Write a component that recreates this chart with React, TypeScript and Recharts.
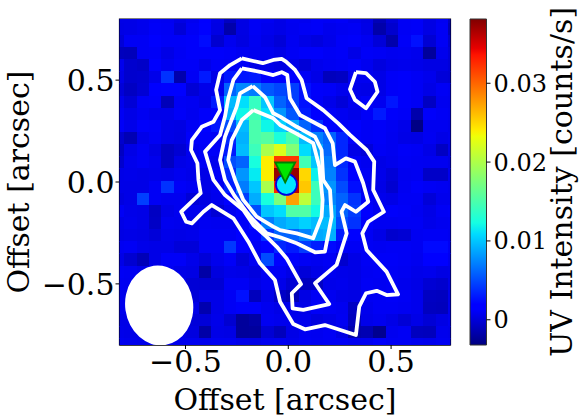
import { Label, ReferenceArea, Scatter, ScatterChart, XAxis, YAxis } from "recharts";

// pixel values, in 1e-3 counts/s, rows from the top
const uvIntensity: number[][] = [
  [0.5, 0.5, 0.7, 1, 0.9, 0.4, 0.8, 1.6, 0.5, -0.8, 0.4, 1, 0.9, 0.5, 0.9, 0.8, 1.1, 1, 1.1, 0.7, 0.4, -1.2, 0, 1, 1.1, 0.4, 0.9, -0.8],
  [0.4, 0.5, 0.7, 1.1, 1, 0, 1, 2, 0.4, -1.7, 0.4, 1, 0.7, 0.5, 0.8, 1, 1.1, 0.7, 0.9, 1, 0.5, -1.7, -0.4, 1, 1.1, 0.4, 1, -1.2],
  [0, 1, 1, 1.3, 1.1, 1.1, 1.2, 2.4, -0.3, 0.8, 0.3, 0.9, 0.5, 0, 0.9, 0.5, 0.2, 0.6, 1.1, 1.2, 0.9, 0, -1.6, 1.1, 2.6, -0.2, 1, -0.4],
  [-1, -1.1, 1, 1.1, 0.5, 1, 1.2, 1.2, 1.2, 1.1, 0.9, 0.8, 0.8, 0.5, 1, 1.2, 1.2, 1, 1.1, 0.5, 1.1, 1, 0.8, 0.9, 0.7, -2.2, 0.7, 0],
  [0.7, -0.4, -0.6, 1.3, 0.8, 1.1, 1.1, 0.6, 1.1, 1, 1.1, 0.5, 0.6, 0.3, 0.6, 0, 0.7, 0.9, 1, 1.2, 0.8, 0.2, 0.6, 0.7, 0.6, 0.4, 0.4, 0],
  [0.5, -0.4, -0.3, 0.6, 4, -1.6, 1, 3, 0.5, 2.8, 2.8, 3, 1.5, 1.3, 1.5, 1, 0.5, -1, -0.8, 0.8, 0.8, 0.5, 1.1, 1.2, 1, 0.7, 0, -0.2],
  [0, -0.8, -0.2, 1.6, 2, 2, -0.1, 0.6, 0.7, 6, 7.5, 7, 5.5, 4.8, 4.5, 2.6, 1.2, 1.1, 0.7, 0.6, 0.5, 0.5, 1.1, 1.2, 1, 0.5, 1, 0.8],
  [0.7, -0.1, 1.1, 1.2, -1.1, 1, 0.9, 0.5, 3, 9.5, 11, 14, 10, 6, 4.5, 2.6, 1.1, 0.6, 0, 0.8, 1.1, 0.8, 2.8, 1.2, 1, -0.8, 0.8, 0.7],
  [1, 0.5, 0.9, 0.6, 0.6, 1.1, 0.8, 1.2, 1.8, 9, 12, 14.5, 11, 8, 5.5, 3, 1.5, 1.1, 0.9, 0.6, 1.1, 3, 1.2, 1.1, -1.6, 1.2, 1, 0.8],
  [1.1, 0.6, 1.2, 1.1, 0.5, 0.4, 1, 2, 2.8, 5, 9.6, 15, 12, 10.5, 8.8, 6, 4, 2, 1.1, 1.3, 1, 1.1, 0.9, 0.6, -3, 0.8, 0.8, 0.6],
  [-0.4, -1.3, 0.6, 1, 0.5, 0.3, 1.2, 1.2, 1, 3.5, 9.2, 15, 15.5, 12.6, 15, 9.6, 7.2, 6, 3.5, 1.2, 1, 1.1, 0.8, 0.5, 0.4, 0.9, 0.5, 0.7],
  [-0.8, 0.5, 1, 0.4, -0.8, -0.2, 0.8, 1.1, 1.1, 3, 9.6, 14.3, 19.8, 22.3, 17.8, 10.9, 8.8, 6.2, 3.5, 0.5, 0, 1, 0.8, 1.1, 1, 0.5, -0.8, 0.6],
  [-0.4, 0.7, 1, 0.7, -0.8, 0.5, 0.7, 1, 0.7, 5, 6, 12.5, 24, 32, 32, 14.5, 10, 7, 3.6, 1.1, 0.8, 0.5, 0.7, 1, 0.9, 0.8, 0.8, 0.5],
  [0.5, 0.6, 0.5, 0.6, 0.5, 0.8, 0.6, 0.5, 1.1, 3.5, 8, 11.5, 24, 37.3, 37.3, 25, 11.7, 7.2, 4, 1.5, 1, 0.6, 0, 0.8, 0.9, -0.6, -0.6, 0.7],
  [0.5, 0.5, 0.5, 1, 4, 1.1, 0.9, 0.5, 0.8, 3.2, 7, 10, 19.8, 33, 36, 25.7, 14.3, 8, 5, 2.5, 0.7, 0.5, -0.3, 0.9, 1.2, 1, 0.9, 0.7],
  [0.2, 0.5, 4.5, 1, 0.8, 0.8, -0.1, 0.3, 0.7, 1.4, 4.5, 9, 12.5, 17.5, 27.4, 20.8, 14.3, 7.5, 6, 4, 1.1, 0.7, 0.5, 1, 1, 0, 0.7, 0.7],
  [1, 0.6, 0.5, -0.8, 0.5, 0.8, 0.7, 0.6, -0.2, 0.8, 1.6, 5, 10, 10.9, 15.3, 15.3, 12.2, 8.8, 6, 4.4, 1.5, 0.8, 1.2, 1.1, 0.9, 0.5, 1, 1.1],
  [0.5, 0.7, 0.5, -0.7, 0.8, 0.7, 0.5, 0.9, 0.8, 0.8, 1.1, 2.5, 7, 8.8, 9.6, 10.5, 9.6, 9.6, 5, 4, 1.2, 0.9, 0.9, 1, 1, 0.6, 0.8, 0.9],
  [0.4, 0.5, 0.4, 0, 0.6, 0.5, 0.6, 1, 1, 1, 1.8, 1.3, 4, 6, 6, 7.2, 8.8, 9.2, 3, 2, 1, 0.5, -0.4, -0.2, 0.9, 1, 1, 0.8],
  [0.9, 1, 0.6, 0.5, 0.5, 0, 0, 1, 1, 4.2, 1.6, 1, 2, 3.5, 3, 4.3, 3.2, 2.3, 1.1, 1, 1, 0.9, 1, 1, 0.9, 2.3, 2.3, 1],
  [0.5, -0.3, -1.2, 0.5, 1.1, 1.1, 0.6, 0, 0.7, 1.1, 0, 0.9, 5, 2, 1.2, 1, 0.8, 1, -0.4, 0.5, 1, 1.1, 1.1, 1, 0.8, 1.5, 1.6, 0.8],
  [1, 0.9, 0.6, 1, 0.9, 0.5, 0.4, -1.8, 0.2, 0.6, 0.5, 0.2, 1, 1, 0.5, 0, 0.5, 0.8, 0.6, 0.5, 0.9, 1, 1, 0.9, 0.6, 0.7, 0.4, 0.5],
  [0.9, 0.8, 0.4, 0.7, 1, 0.8, -0.1, -0.2, -0.2, 1, 1, 0.5, 0.9, 0.6, -0.2, -0.9, -0.8, 0.6, 0.7, 0.5, 1, 0.9, 1, 0.7, 0.5, -0.2, -0.4, 0.5],
  [0.7, 0.5, 0.6, 0.6, 0.7, 0.9, 0, 0.5, 0.5, 1, 2.6, -1, 0.5, -0.7, -1.3, 0.4, 1, 0.8, 0.5, 0.4, 0.9, 1, 1.1, 1, 0.7, -0.8, -0.9, 0.6],
  [0.7, 0.8, 0.5, 0.9, 0.8, 0.8, 0.5, -1.5, 0.5, 1, 1.2, 1.2, 0.8, 0.5, 0.6, 0.5, 1.1, 1, 0.8, -0.8, 0.7, 1, 1, 0.9, 0.7, -0.9, -1, 0.7],
  [0.5, 0.5, 0.4, 0.9, 0.8, 0.9, 0, 0, 0.6, -0.3, -2.2, -1.8, 0.9, 0.7, 0.7, 0.7, 0.2, 0.5, 0.9, -1, 0.6, 0.8, 0.5, -0.1, 0.5, -0.1, 0.4, 0.8],
  [0.6, 0.5, 0.5, 0.7, 0.7, 0.5, 0.2, -1.8, 0.5, 0.4, -2.2, -2.1, -0.2, -1, 0.5, 0.9, 0.8, 1, 0.4, -1.6, -1.4, -2.6, 0.8, 1, -0.9, -1, 0.7, 0.6],
  [0.8, 0.7, 0.6, 0.9, 0.6, 0.7, 0.8, 0.7, 0.9, 0.9, 0.6, 0.5, 0.8, 0.9, 0.7, 1, 0.9, 1, 1, 0.8, 0.9, 1.2, 1, 1, 0.8, 0.7, 0.9, 0.8],
];

// contours in arcsec, each closed on itself
const contourOuter: [number, number][] = [
  [-0.226, 0.607], [-0.124, 0.583], [-0.073, 0.599], [-0.032, 0.604], [-0.011, 0.591], [0.033, 0.55], [0.065, 0.501], [0.089, 0.411],
  [0.17, 0.353], [0.243, 0.288], [0.3, 0.231], [0.381, 0.157], [0.418, 0.1], [0.413, -0.039], [0.465, -0.146], [0.389, -0.195],
  [0.36, -0.252], [0.381, -0.334], [0.478, -0.44], [0.534, -0.551], [0.478, -0.555], [0.43, -0.534], [0.378, -0.546], [0.345, -0.612],
  [0.329, -0.751], [0.178, -0.702], [0.081, -0.723], [0.024, -0.697], [-0.04, -0.588], [-0.065, -0.481], [-0.138, -0.399], [-0.194, -0.293],
  [-0.267, -0.178], [-0.372, -0.113], [-0.413, -0.146], [-0.469, -0.203], [-0.497, -0.195], [-0.521, -0.146], [-0.426, -0.055], [-0.437, 0.01],
  [-0.442, 0.092], [-0.473, 0.157], [-0.469, 0.206], [-0.421, 0.271], [-0.364, 0.296], [-0.332, 0.353], [-0.351, 0.452], [-0.332, 0.534],
  [-0.283, 0.574], [-0.226, 0.607],
];
const contourSecond: [number, number][] = [
  [-0.226, 0.558], [-0.138, 0.541], [-0.073, 0.525], [-0.032, 0.539], [-0.005, 0.525], [0.008, 0.411], [0.057, 0.329], [0.178, 0.264],
  [0.216, 0.19], [0.227, 0.083], [0.28, 0.116], [0.324, 0.1], [0.364, -0.005], [0.389, -0.097], [0.329, -0.146], [0.276, -0.113],
  [0.259, -0.146], [0.284, -0.252], [0.235, -0.407], [0.13, -0.497], [0.199, -0.599], [0.073, -0.628], [0.021, -0.62], [0.017, -0.546],
  [0.062, -0.501], [-0.008, -0.375], [-0.056, -0.318], [-0.105, -0.269], [-0.17, -0.211], [-0.219, -0.137], [-0.308, -0.064], [-0.364, 0.01],
  [-0.405, 0.149], [-0.332, 0.231], [-0.308, 0.321], [-0.292, 0.411], [-0.267, 0.501], [-0.226, 0.558],
];
const contourThird: [number, number][] = [
  [-0.173, 0.471], [-0.113, 0.416], [-0.073, 0.337], [-0.04, 0.321], [0.041, 0.271], [0.13, 0.222], [0.162, 0.157], [0.17, 0.01],
  [0.203, -0.039], [0.211, -0.17], [0.178, -0.342], [0.13, -0.345], [0.041, -0.301], [-0.04, -0.271], [-0.105, -0.252], [-0.186, -0.17],
  [-0.259, -0.072], [-0.308, 0.01], [-0.332, 0.108], [-0.308, 0.222], [-0.251, 0.37], [-0.235, 0.435], [-0.173, 0.471],
];
const contourInner: [number, number][] = [
  [-0.17, 0.353], [-0.073, 0.313], [-0.04, 0.28], [0.033, 0.241], [0.121, 0.191], [0.151, 0.075], [0.157, 0.01], [0.167, -0.088],
  [0.162, -0.17], [0.121, -0.276], [0.041, -0.252], [-0.04, -0.236], [-0.073, -0.219], [-0.154, -0.17], [-0.219, -0.088], [-0.259, 0.01],
  [-0.292, 0.108], [-0.275, 0.206], [-0.226, 0.304], [-0.17, 0.353],
];
const contourIsland: [number, number][] = [
  [0.329, 0.539], [0.378, 0.534], [0.421, 0.492], [0.434, 0.443], [0.378, 0.362], [0.324, 0.403], [0.3, 0.455], [0.329, 0.539],
];
const contours = [contourOuter, contourSecond, contourThird, contourInner, contourIsland];

const beamCentre = [{ x: -0.628, y: -0.606 }];
const uvPeak = [{ x: -0.009, y: -0.012 }];
const dustPeak = [{ x: -0.015, y: 0.059 }];

const offsetTicksX = [-0.5, 0, 0.5];
const offsetTicksY = [-0.5, 0, 0.5];
const colorbarTicks = [0, 0.01, 0.02, 0.03];
const colorbarEdge = [{ x: 0, y: 0 }];
const vMin = -0.0032;
const vMax = 0.03815;

const FONT = "'DejaVu Serif', serif";

function jet(v: number) {
  const t = Math.min(1, Math.max(0, (v - vMin) / (vMax - vMin)));
  const seg = (pts: number[][]) => {
    for (let i = 1; i < pts.length; i++) {
      if (t <= pts[i][0]) {
        const [a, va] = pts[i - 1];
        const [b, vb] = pts[i];
        return Math.round(255 * (va + ((t - a) / (b - a)) * (vb - va)));
      }
    }
    return 0;
  };
  const r = seg([[0, 0], [0.35, 0], [0.66, 1], [0.89, 1], [1, 0.5]]);
  const g = seg([[0, 0], [0.125, 0], [0.375, 1], [0.64, 1], [0.91, 0], [1, 0]]);
  const b = seg([[0, 0.5], [0.11, 1], [0.34, 1], [0.65, 0], [1, 0]]);
  return `rgb(${r},${g},${b})`;
}

const cells = uvIntensity.flatMap((row, r) =>
  row.map((v, c) => ({ x: -0.828 + 0.0606 * c, y: 0.811 - 0.0596 * r, value: v / 1000 })),
);

const gradientStops = [0, 0.11, 0.125, 0.34, 0.375, 0.5, 0.64, 0.66, 0.89, 0.91, 1];

const fmt = (v: number) => (v < 0 ? "\u2212" : "") + Math.abs(v).toFixed(1);

function HeatCell({ cx, cy, payload }: any) {
  return (
    <rect
      x={cx - 6.4}
      y={cy - 6.2}
      width={12.8}
      height={12.4}
      fill={jet(payload.value)}
      shapeRendering="crispEdges"
    />
  );
}

function Beam({ cx, cy }: any) {
  return <ellipse cx={cx} cy={cy} rx={34} ry={40} fill="#fff" transform={`rotate(-8 ${cx} ${cy})`} />;
}

function UvMarker({ cx, cy }: any) {
  return <circle cx={cx} cy={cy} r={10.5} fill="#00e5ff" stroke="#0000e0" strokeWidth={1.8} />;
}

function DustMarker({ cx, cy }: any) {
  return (
    <polygon
      points={`${cx - 10},${cy - 7.5} ${cx + 10},${cy - 7.5} ${cx},${cy + 12.5}`}
      fill="#00e600"
      stroke="#008000"
      strokeWidth={1.8}
    />
  );
}

export default function App() {
  return (
    <div style={{ position: "absolute", left: 0, top: 0, width: 586, height: 419, background: "#fff" }}>
      <div style={{ position: "absolute", left: 0, top: 0 }}>
        <ScatterChart width={586} height={419} margin={{ top: 19, right: 135.5, bottom: 0, left: 0 }}>
          <XAxis
            type="number"
            dataKey="x"
            domain={[-0.821, 0.789]}
            ticks={offsetTicksX}
            tickFormatter={fmt}
            allowDataOverflow
            height={74}
            tick={{ fill: "#000", fontSize: 30, fontFamily: FONT }}
            tickSize={4}
            tickMargin={2}
            stroke="#000"
          >
            <Label value="Offset [arcsec]" position="insideBottom" offset={9} style={{ fill: "#000", fontSize: 30, fontFamily: FONT }} />
          </XAxis>
          <YAxis
            type="number"
            dataKey="y"
            domain={[-0.8, 0.8]}
            ticks={offsetTicksY}
            tickFormatter={fmt}
            allowDataOverflow
            width={119.5}
            tick={{ fill: "#000", fontSize: 30, fontFamily: FONT }}
            tickSize={4}
            tickMargin={1}
            stroke="#000"
          >
            <Label value="Offset [arcsec]" angle={-90} position="insideLeft" offset={18} style={{ textAnchor: "middle", fill: "#000", fontSize: 30, fontFamily: FONT }} />
          </YAxis>
          <Scatter data={cells} shape={HeatCell} isAnimationActive={false} />
          {contours.map((points, i) => (
            <Scatter
              key={i}
              data={points.map(([x, y]) => ({ x, y }))}
              line={{ stroke: "#fff", strokeWidth: 3.8, strokeLinejoin: "round" }}
              lineType="joint"
              shape={() => null}
              isAnimationActive={false}
            />
          ))}
          <Scatter data={beamCentre} shape={Beam} isAnimationActive={false} />
          <Scatter data={uvPeak} shape={UvMarker} isAnimationActive={false} />
          <Scatter data={dustPeak} shape={DustMarker} isAnimationActive={false} />
          <ReferenceArea x1={-0.821} x2={0.789} y1={-0.8} y2={0.8} fill="none" stroke="#000" strokeWidth={1.2} />
        </ScatterChart>
      </div>
      <div style={{ position: "absolute", left: 0, top: 0 }}>
        <ScatterChart width={586} height={419} margin={{ top: 19, right: 0, bottom: 74, left: 470 }}>
          <defs>
            <linearGradient id="jetBar" x1="0" y1="1" x2="0" y2="0">
              {gradientStops.map((t) => (
                <stop key={t} offset={t} stopColor={jet(vMin + t * (vMax - vMin))} />
              ))}
            </linearGradient>
          </defs>
          <XAxis type="number" dataKey="x" domain={[0, 1]} hide />
          <YAxis
            type="number"
            dataKey="y"
            orientation="right"
            domain={[vMin, vMax]}
            ticks={colorbarTicks}
            tickFormatter={(v: number) => (v === 0 ? "0" : v.toFixed(2))}
            width={99.5}
            axisLine={false}
            tick={{ fill: "#000", fontSize: 24, fontFamily: FONT }}
            tickSize={4}
            tickMargin={3}
            stroke="#000"
            allowDataOverflow
          >
            <Label value="UV Intensity [counts/s]" angle={-90} position="insideRight" offset={25} style={{ textAnchor: "middle", fill: "#000", fontSize: 30, fontFamily: FONT }} />
          </YAxis>
          <Scatter data={colorbarEdge} shape={() => null} isAnimationActive={false} />
          <ReferenceArea x1={0} x2={1} y1={vMin} y2={vMax} fill="url(#jetBar)" fillOpacity={1} stroke="#333" strokeWidth={1} />
        </ScatterChart>
      </div>
    </div>
  );
}
